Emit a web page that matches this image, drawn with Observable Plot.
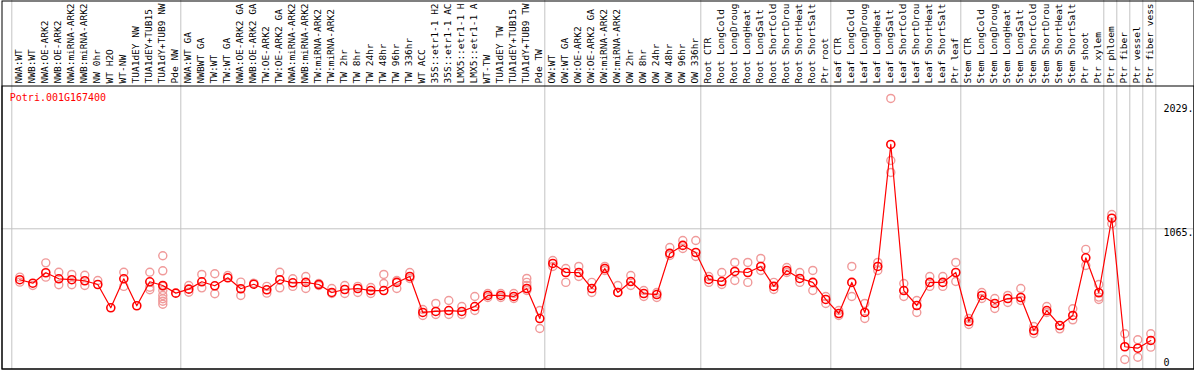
<!DOCTYPE html>
<html>
<head>
<meta charset="utf-8">
<script src="https://cdn.jsdelivr.net/npm/d3@7"></script>
<script src="https://cdn.jsdelivr.net/npm/@observablehq/plot@0.6"></script>
<style>
  html, body { margin: 0; padding: 0; background: white; }
  #chart svg { display: block; }
</style>
</head>
<body>
<div id="chart"></div>
<script>
const geneTitle = "Potri.001G167400";

// sample labels as shown (the chart truncates them at 14 characters)
const categories = [
  "NWA:WT","NWB:WT","NWA:OE-ARK2","NWB:OE-ARK2","NWA:miRNA-ARK2","NWB:miRNA-ARK2","NW 0hr","WT H2O","WT-NW",
  "TUA1dEY NW","TUA1dEY+TUB15","TUA1dY+TUB9 NW","Pde NW",
  "NWA:WT GA","NWBWT GA","TW:WT","TW:WT GA","NWA:OE-ARK2 GA","NWB:OE-ARK2 GA","TW:OE-ARK2","TW:OE-ARK2 GA",
  "NWA:miRNA-ARK2","NWB:miRNA-ARK2","TW:miRNA-ARK2","TW:miRNA-ARK2","TW 2hr","TW 8hr","TW 24hr","TW 48hr","TW 96hr",
  "TW 336hr","WT ACC","35S::etr1-1 H2","35S::etr1-1 AC","LMX5::etr1-1 H","LMX5::etr1-1 A","WT-TW",
  "TUA1dEY TW","TUA1dEY+TUB15","TUA1dY+TUB9 TW","Pde TW",
  "OW:WT","OW:WT GA","OW:OE-ARK2","OW:OE-ARK2 GA","OW:miRNA-ARK2","OW:miRNA-ARK2","OW 2hr","OW 8hr","OW 24hr",
  "OW 48hr","OW 96hr","OW 336hr",
  "Root CTR","Root LongCold","Root LongDroug","Root LongHeat","Root LongSalt","Root ShortCold","Root ShortDrou",
  "Root ShortHeat","Root ShortSalt","Ptr root",
  "Leaf CTR","Leaf LongCold","Leaf LongDroug","Leaf LongHeat","Leaf LongSalt","Leaf ShortCold","Leaf ShortDrou",
  "Leaf ShortHeat","Leaf ShortSalt","Ptr leaf",
  "Stem CTR","Stem LongCold","Stem LongDroug","Stem LongHeat","Stem LongSalt","Stem ShortCold","Stem ShortDrou",
  "Stem ShortHeat","Stem ShortSalt","Ptr shoot","Ptr xylem",
  "Ptr phloem","Ptr fiber","Ptr vessel","Ptr fiber vess"
];

// mean expression per sample
const means = [
  670,643,724,677,670,662,633,452,677,468,654,625,566,
  597,654,623,685,600,635,592,670,646,649,633,571,594,602,586,586,649,
  695,416,424,431,424,462,548,548,540,602,369,
  796,726,726,602,757,571,656,563,555,874,936,881,
  672,656,734,726,773,618,742,680,649,517,
  408,649,416,773,1719,586,470,649,649,726,
  346,548,486,524,532,276,431,315,393,840,569,
  1147,150,139,199
];

// individual replicate values per sample
const replicates = [
  [690,651],[625],[801,690],[728,631],[711,631],[705,625],[664],[],[728,618],[],[728,612,592],
  [856,739,618,586,548,522,503,480],[],
  [625,573],[711,607],[716,561],[703],[651,548],[643],[618,566],[728,607],[677,618],[695,602],[641,625],
  [602,563],[625,563],[618,571],[610,563],[711,641],[664,602],[726,680],[439,393],[486,400],[509,400],
  [462,400],[540,431],[563,532],[563,532],[563,524],[680,649,625,586],[431,292],
  [819,773],[757,649],[773,695],[649,571],[773,742],[625,571],[703,625],[586,540],[571,532],[920,858],
  [974,912],[974,850],
  [695,649],[726,633],[804,664],[804,649],[835,742],[649,594],[765,726],[726,649],[742,586],[540,486],
  [431,393],[773,540],[486,369],[804,742],[2076,1595,1502],[641,540],[509,416],[695,618],[695,618],[804,656],
  [369,323],[571,524],[524,447],[548,493],[602,509],[307,253],[462,416],[289],[445,359],[905,780],[633,535,517],
  [1176,1104],[251,51],[204,69],[251,147]
];

// last sample index of each group (vertical separators)
const groupEnds = [-1, 12, 40, 52, 62, 72, 83, 84, 85, 86, 87];

const yTicks = [2029, 1065, 0];
const yGrid = [1065];

const W = 1194, H = 370;
const mL = 19.3, mR = 43.7, mT = 104, mB = 4.4;
const mono = "DejaVu Sans Mono";
const gray = "#c4c4c4";

const meanRows = means.map((v, i) => ({i, v}));
const repRows = replicates.flatMap((vals, i) => vals.map(v => ({i, v})));
const catRows = categories.map((c, i) => ({i, c}));

const plot = Plot.plot({
  width: W, height: H,
  marginLeft: mL, marginRight: mR, marginTop: mT, marginBottom: mB,
  x: {domain: [0, categories.length - 1], axis: null},
  y: {domain: [0, 2029], axis: null},
  style: {fontFamily: mono, overflow: "hidden", background: "white"},
  marks: [
    Plot.ruleY(yGrid, {y: d => d, stroke: gray, insetLeft: -(mL - 1), insetRight: -(mR - 1)}),
    Plot.ruleX(groupEnds, {x: d => d, dx: 5, stroke: gray, insetTop: -mT, insetBottom: -(H - 1 - (H - mB))}),
    Plot.frame({stroke: "black", insetLeft: -(mL - 1.5), insetRight: -(mR - 0.5), insetTop: -(mT - 0.5), insetBottom: -(H - 1.5 - (H - mB))}),
    Plot.frame({stroke: "black", insetLeft: -(mL - 1.5), insetRight: -(mR - 0.5), insetTop: -(mT - 85.5), insetBottom: -(H - 1.5 - (H - mB))}),
    Plot.text(catRows, {x: "i", text: "c", frameAnchor: "top", dy: -(mT - 83), dx: -1, rotate: -90,
      textAnchor: "start", lineAnchor: "middle", fontSize: 9.5, fontFamily: mono, fill: "black"}),
    Plot.text([geneTitle], {frameAnchor: "top-left", dx: -10, dy: -7, textAnchor: "start",
      lineAnchor: "middle", fontSize: 10, fontFamily: mono, fill: "red"}),
    Plot.dot(repRows, {x: "i", y: "v", r: 4, stroke: "#f09a9a", strokeWidth: 1.4, fill: "none"}),
    Plot.line(meanRows, {x: "i", y: "v", stroke: "red", strokeWidth: 1.2}),
    Plot.dot(meanRows, {x: "i", y: "v", r: 4, stroke: "red", strokeWidth: 1.6, fill: "none"}),
    Plot.text(yTicks.filter(v => v > 0), {y: d => d, text: d => d + ".", frameAnchor: "right", dx: 12.7,
      textAnchor: "start", lineAnchor: "top", fontSize: 10, fontFamily: mono, fill: "black"}),
    Plot.text(yTicks.filter(v => v === 0), {y: d => d, text: d => String(d), frameAnchor: "right", dx: 12.7,
      textAnchor: "start", lineAnchor: "bottom", fontSize: 10, fontFamily: mono, fill: "black"})
  ]
});
document.getElementById("chart").appendChild(plot);
</script>
</body>
</html>
